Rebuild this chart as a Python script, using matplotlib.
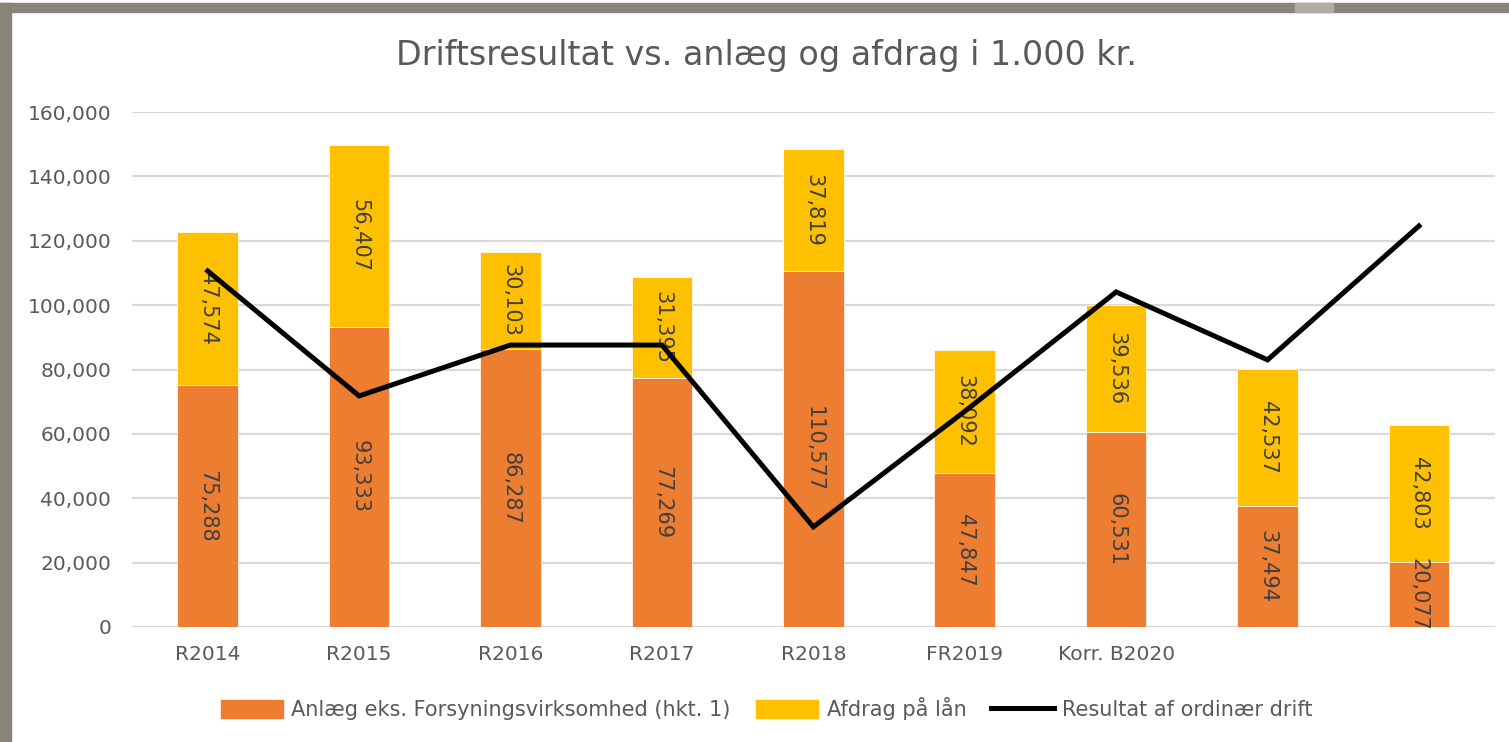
import matplotlib.pyplot as plt
import numpy as np
from matplotlib.patches import Rectangle
from matplotlib.lines import Line2D
from matplotlib.ticker import FuncFormatter

plt.rcParams['font.family'] = ['DejaVu Sans']

# Data
kategorier = ["R2014", "R2015", "R2016", "R2017", "R2018", "FR2019", "Korr. B2020", "", ""]
anlaeg = [75288, 93333, 86287, 77269, 110577, 47847, 60531, 37494, 20077]
afdrag = [47574, 56407, 30103, 31395, 37819, 38092, 39536, 42537, 42803]
resultat = [110600, 71800, 87600, 87600, 31100, 67000, 104100, 83000, 124600]

ORANGE = "#ED7D31"
GUL = "#FFC000"
TEKST = "#595959"
LABEL = "#404040"
GRID = "#D9D9D9"

fig = plt.figure(figsize=(15.09, 7.42), dpi=100)
ax = fig.add_axes([0.0875, 0.155, 0.903, 0.694])

x = np.arange(len(kategorier))
bredde = 0.4
ax.bar(x, anlaeg, bredde, color=ORANGE, edgecolor="white", linewidth=0.5, zorder=2)
ax.bar(x, afdrag, bredde, bottom=anlaeg, color=GUL, edgecolor="white", linewidth=0.5, zorder=2)
ax.plot(x, resultat, color="black", linewidth=3.6, zorder=4, solid_joinstyle="miter")

# Dataetiketter, roteret
for xi, a, b in zip(x, anlaeg, afdrag):
    ax.text(xi, a / 2, f"{a:,}", rotation=270, ha="center", va="center",
            fontsize=15, color=LABEL, zorder=3)
    ax.text(xi, a + b / 2, f"{b:,}", rotation=270, ha="center", va="center",
            fontsize=15, color=LABEL, zorder=3)

ax.set_xlim(-0.5, len(kategorier) - 0.5)
ax.set_ylim(0, 160000)
ax.set_yticks(np.arange(0, 160001, 20000))
ax.yaxis.set_major_formatter(FuncFormatter(lambda v, p: f"{int(v):,}"))
ax.set_xticks(x)
ax.set_xticklabels(kategorier)
ax.tick_params(axis="both", length=0, labelsize=14.5, colors=TEKST)
ax.tick_params(axis="x", pad=13)
ax.tick_params(axis="y", pad=15)
ax.grid(axis="y", color=GRID, linewidth=1.6, zorder=0)
ax.set_axisbelow(True)
for s in ax.spines.values():
    s.set_visible(False)

fig.text(0.508, 0.925, "Driftsresultat vs. anlæg og afdrag i 1.000 kr.",
         ha="center", va="center", fontsize=24, color=TEKST)

handles = [
    Rectangle((0, 0), 1, 1, color=ORANGE),
    Rectangle((0, 0), 1, 1, color=GUL),
    Line2D([], [], color="black", linewidth=3.6),
]
fig.legend(handles, ["Anlæg eks. Forsyningsvirksomhed (hkt. 1)", "Afdrag på lån", "Resultat af ordinær drift"],
           loc="center", bbox_to_anchor=(0.508, 0.045), ncol=3, frameon=False,
           fontsize=15, labelcolor=TEKST, handlelength=3.0, handleheight=0.9,
           columnspacing=1.2, handletextpad=0.4)

# Grå ramme øverst og til venstre
fig.patches.append(Rectangle((0, 1 - 12 / 742), 1, 9 / 742, transform=fig.transFigure,
                             color="#8A8478", zorder=10))
fig.patches.append(Rectangle((0, 0), 11 / 1509, 1 - 3 / 742, transform=fig.transFigure,
                             color="#8A8478", zorder=10))
fig.patches.append(Rectangle((1295 / 1509, 1 - 12 / 742), 38 / 1509, 9 / 742, transform=fig.transFigure,
                             color="#B0ABA3", zorder=11))

fig.savefig("out.png", dpi=100)
